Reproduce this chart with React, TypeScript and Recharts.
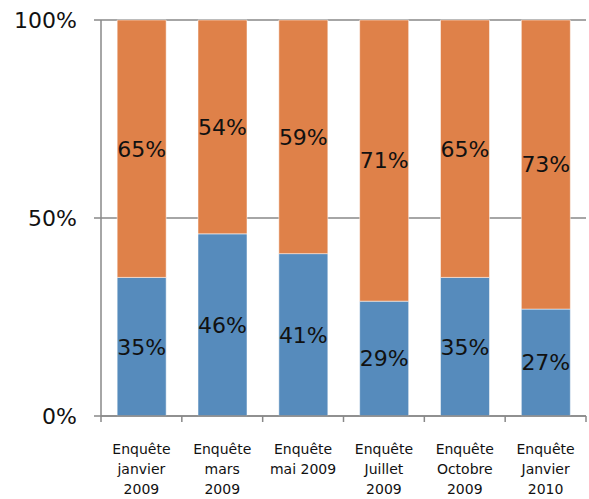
import { Bar, BarChart, CartesianGrid, LabelList, XAxis, YAxis } from "recharts";

const categories = [
  ["Enquête", "janvier", "2009"],
  ["Enquête", "mars", "2009"],
  ["Enquête", "mai 2009"],
  ["Enquête", "Juillet", "2009"],
  ["Enquête", "Octobre", "2009"],
  ["Enquête", "Janvier", "2010"],
];
const blueValues = [35, 46, 41, 29, 35, 27];
const orangeValues = [65, 54, 59, 71, 65, 73];
const yTicks = [0, 50, 100];

const data = categories.map((lines, i) => ({
  name: lines.join(" "),
  lines,
  blue: blueValues[i],
  orange: orangeValues[i],
}));

const AXIS = "#888888";
const FONT = "DejaVu Sans, sans-serif";

const CategoryTick = (props: any) => {
  const { x, y, payload, index } = props;
  const half = payload && payload.offset ? payload.offset : 40.4;
  const lines = categories[index] || [];
  return (
    <g>
      <line x1={x - half} y1={y} x2={x - half} y2={y + 6} stroke={AXIS} strokeWidth={1.5} />
      {index === categories.length - 1 && (
        <line x1={x + half} y1={y} x2={x + half} y2={y + 6} stroke={AXIS} strokeWidth={1.5} />
      )}
      {lines.map((line: string, i: number) => (
        <text
          key={i}
          x={x}
          y={y + 38 + i * 20}
          textAnchor="middle"
          fontSize={14}
          fontFamily={FONT}
          fill="#111"
        >
          {line}
        </text>
      ))}
    </g>
  );
};

const pct = (v: any) => `${v}%`;

const App = () => {
  return (
    <div style={{ position: "absolute", left: 0, top: 0 }}>
      <BarChart
        width={589}
        height={499}
        data={data}
        margin={{ top: 20, right: 3, bottom: 0, left: 0 }}
        barCategoryGap="20%"
      >
        <CartesianGrid vertical={false} stroke={AXIS} strokeWidth={1.5} />
        <XAxis
          dataKey="name"
          axisLine={{ stroke: AXIS, strokeWidth: 1.5 }}
          tickLine={false}
          tickSize={0}
          tickMargin={0}
          interval={0}
          height={83}
          tick={<CategoryTick />}
        />
        <YAxis
          domain={[0, 100]}
          ticks={yTicks}
          tickFormatter={pct}
          width={101}
          axisLine={{ stroke: AXIS, strokeWidth: 1.5 }}
          tickLine={{ stroke: AXIS, strokeWidth: 1.5 }}
          tickSize={7}
          tickMargin={17}
          tick={{ fontSize: 22, fill: "#111", fontFamily: FONT }}
        />
        <Bar dataKey="blue" stackId="a" fill="#568BBC" stroke="#ffffff" strokeOpacity={0.5} isAnimationActive={false}>
          <LabelList dataKey="blue" position="center" formatter={pct} fontSize={22} fill="#111" fontFamily={FONT} />
        </Bar>
        <Bar dataKey="orange" stackId="a" fill="#DF8149" stroke="#ffffff" strokeOpacity={0.5} isAnimationActive={false}>
          <LabelList dataKey="orange" position="center" formatter={pct} fontSize={22} fill="#111" fontFamily={FONT} />
        </Bar>
      </BarChart>
    </div>
  );
};

export default App;
